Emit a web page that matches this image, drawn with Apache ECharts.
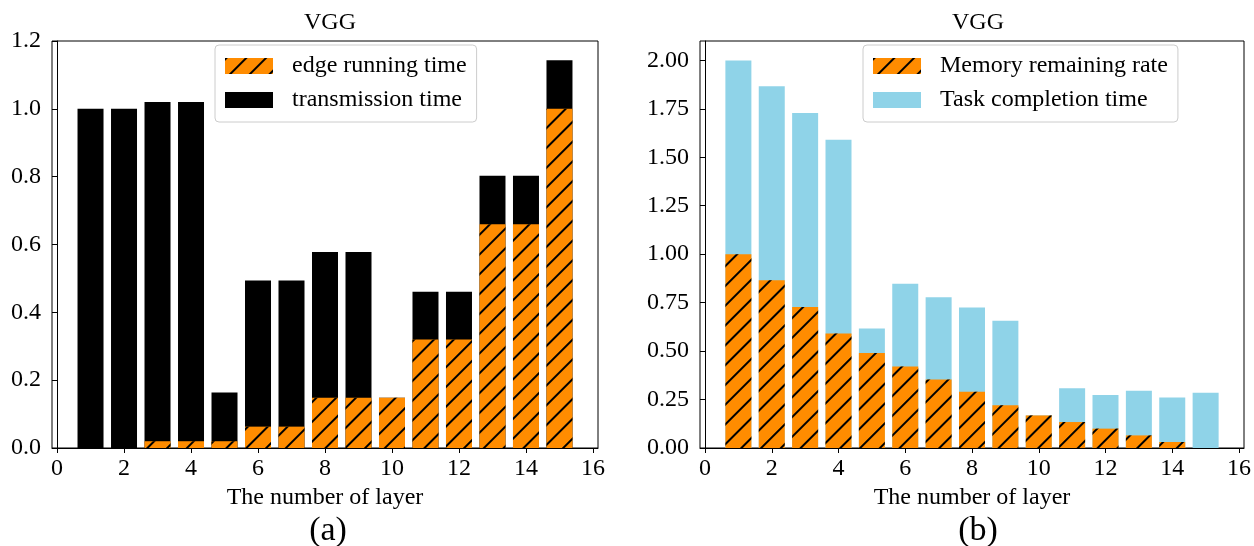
<!DOCTYPE html>
<html>
<head>
<meta charset="utf-8">
<script src="https://cdn.jsdelivr.net/npm/echarts@6/dist/echarts.min.js"></script>
<style>
html,body{margin:0;padding:0;background:#fff;}
#chart{width:1254px;height:546px;}
</style>
</head>
<body>
<div id="chart"></div>
<script>
// ---- data ----
var layers = [1,2,3,4,5,6,7,8,9,10,11,12,13,14,15];
var edgeRunning = [0,0,0.02,0.02,0.02,0.063,0.063,0.148,0.148,0.148,0.32,0.32,0.66,0.66,1.0];
var transmission = [1.0,1.0,1.0,1.0,0.144,0.431,0.431,0.43,0.43,0,0.141,0.141,0.143,0.143,0.143];
var memoryRemaining = [1.0,0.866,0.728,0.591,0.49,0.421,0.354,0.29,0.22,0.168,0.134,0.1,0.065,0.031,0];
var taskCompletion = [1.0,1.0,1.0,1.0,0.127,0.426,0.424,0.435,0.436,0,0.174,0.173,0.23,0.23,0.285];
var xTicks = [0,2,4,6,8,10,12,14,16];
var yTicksRight = [0,0.25,0.5,0.75,1.0,1.25,1.5,1.75,2.0];

function pairs(xs, ys){ return xs.map(function(x,i){ return [x, ys[i]]; }); }
// stacked tops: the upper segment is drawn from 0 to (bottom + its own value), behind the bottom segment
function stackedPairs(xs, bottom, top){ return xs.map(function(x,i){ return [x, +(bottom[i] + top[i]).toFixed(4)]; }); }

var FONT = '"Liberation Serif", "Times New Roman", serif';
var ORANGE = '#ff8c00';
var BLUE = '#8fd3e8';
var hatch = {
  symbol: 'rect', symbolSize: 1, color: '#000',
  dashArrayX: [1, 0], dashArrayY: [1.6, 11.4], rotation: -Math.PI / 4
};

function xAxisDef(gi){
  return {
    type: 'value', gridIndex: gi, min: -0.15, max: 16.15,
    name: 'The number of layer', nameLocation: 'middle', nameGap: 36,
    nameTextStyle: {fontFamily: FONT, fontSize: 24, color: '#000'},
    splitLine: {show: false},
    axisLine: {show: true, onZero: false, lineStyle: {color: '#000', width: 1}},
    axisTick: {show: true, length: 5, customValues: xTicks, lineStyle: {color: '#000'}},
    axisLabel: {customValues: xTicks, fontFamily: FONT, fontSize: 24, color: '#000', margin: 9}
  };
}
function legendDef(names, left){
  return {
    data: names.map(function(n){ return {name: n, icon: 'rect'}; }),
    orient: 'vertical', left: left, top: 45, padding: [9, 10, 10, 10],
    itemWidth: 48, itemHeight: 16, itemGap: 10,
    backgroundColor: 'rgba(255,255,255,0.8)', borderColor: '#cccccc', borderWidth: 1, borderRadius: 4,
    textStyle: {fontFamily: FONT, fontSize: 24, color: '#000', lineHeight: 24, padding: [0, 0, 0, 14]},
    selectedMode: false
  };
}
function titleDef(text, x, top, size){
  return {text: text, left: x, top: top, textAlign: 'center',
    textStyle: {fontFamily: FONT, fontSize: size, fontWeight: 'normal', color: '#000'}};
}

var chart = echarts.init(document.getElementById('chart'), null, {renderer: 'canvas'});
chart.setOption({
  animation: false,
  backgroundColor: '#fff',
  title: [
    titleDef('VGG', 325, 6, 24),
    titleDef('VGG', 973, 6, 24),
    titleDef('(a)', 323, 509, 34),
    titleDef('(b)', 973, 509, 34)
  ],
  legend: [
    legendDef(['edge running time', 'transmission time'], 215),
    legendDef(['Memory remaining rate', 'Task completion time'], 863)
  ],
  grid: [
    {left: 52, top: 41, width: 546, height: 407, show: true, borderColor: '#000', borderWidth: 1},
    {left: 700, top: 41, width: 546, height: 407, show: true, borderColor: '#000', borderWidth: 1}
  ],
  xAxis: [xAxisDef(0), xAxisDef(1)],
  yAxis: [
    {
      type: 'value', gridIndex: 0, min: 0, max: 1.2, interval: 0.2,
      splitLine: {show: false},
      axisLine: {show: true, lineStyle: {color: '#000'}},
      axisTick: {show: true, length: 5, lineStyle: {color: '#000'}},
      axisLabel: {fontFamily: FONT, fontSize: 24, color: '#000', margin: 11,
        formatter: function(v){ return v.toFixed(1); }}
    },
    {
      type: 'value', gridIndex: 1, min: 0, max: 2.1,
      splitLine: {show: false},
      axisLine: {show: true, lineStyle: {color: '#000'}},
      axisTick: {show: true, length: 5, customValues: yTicksRight, lineStyle: {color: '#000'}},
      axisLabel: {customValues: yTicksRight, fontFamily: FONT, fontSize: 24, color: '#000', margin: 11,
        formatter: function(v){ return v.toFixed(2); }}
    }
  ],
  series: [
    {name: 'transmission time', type: 'bar', xAxisIndex: 0, yAxisIndex: 0, barWidth: 26, barGap: '-100%', z: 2,
      itemStyle: {color: '#000'}, data: stackedPairs(layers, edgeRunning, transmission)},
    {name: 'edge running time', type: 'bar', xAxisIndex: 0, yAxisIndex: 0, barWidth: 26, barGap: '-100%', z: 3,
      itemStyle: {color: ORANGE, decal: hatch}, data: pairs(layers, edgeRunning)},
    {name: 'Task completion time', type: 'bar', xAxisIndex: 1, yAxisIndex: 1, barWidth: 26, barGap: '-100%', z: 2,
      itemStyle: {color: BLUE}, data: stackedPairs(layers, memoryRemaining, taskCompletion)},
    {name: 'Memory remaining rate', type: 'bar', xAxisIndex: 1, yAxisIndex: 1, barWidth: 26, barGap: '-100%', z: 3,
      itemStyle: {color: ORANGE, decal: hatch}, data: pairs(layers, memoryRemaining)}
  ]
});
</script>
</body>
</html>
